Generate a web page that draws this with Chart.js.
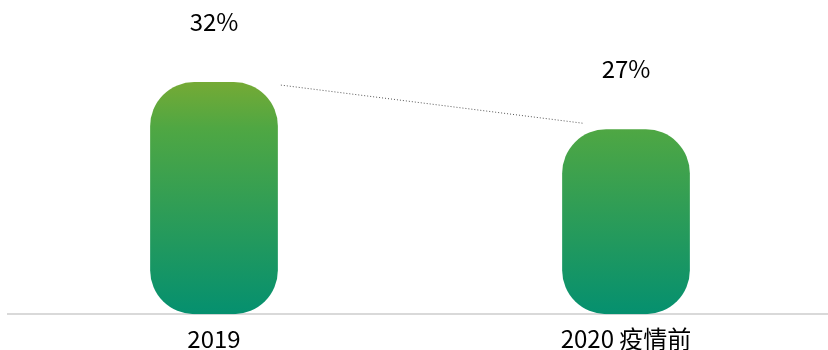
<!DOCTYPE html>
<html>
<head>
<meta charset="utf-8">
<script src="https://cdn.jsdelivr.net/npm/chart.js@4/dist/chart.umd.min.js"></script>
<style>
  html, body { margin: 0; padding: 0; background: #fff; overflow: hidden; }
  #wrap { position: relative; width: 832px; height: 363px; }
</style>
</head>
<body>
<div id="wrap"><canvas id="chart"></canvas></div>
<script>
const categories = ["2019", "2020 疫情前"];
const shares = [32, 27];
const shareLabels = ["32%", "27%"];

const Y_MIN = 7.4;
const Y_MAX = 40.7;
const FONT = "'Noto Sans CJK SC', 'Noto Sans', sans-serif";

// value labels above each bar
const valueLabels = {
    id: "valueLabels",
    afterDatasetsDraw(chart) {
        const ctx = chart.ctx;
        const bars = chart.getDatasetMeta(0).data;
        ctx.save();
        ctx.font = "24px " + FONT;
        ctx.fillStyle = "#000";
        ctx.textAlign = "center";
        ctx.textBaseline = "middle";
        bars.forEach((bar, i) => {
            ctx.fillText(shareLabels[i], bar.x, bar.y - 60);
        });
        ctx.restore();
    }
};

// dotted trend line between the two bars
const trendLine = {
    id: "trendLine",
    afterDatasetsDraw(chart) {
        const ctx = chart.ctx;
        const [a, b] = chart.getDatasetMeta(0).data;
        ctx.save();
        ctx.strokeStyle = "#555";
        ctx.lineWidth = 1;
        ctx.setLineDash([1, 2]);
        ctx.beginPath();
        ctx.moveTo(a.x + a.width / 2 + 3, a.y + 3);
        ctx.lineTo(b.x - b.width / 2 + 21, b.y - 6);
        ctx.stroke();
        ctx.restore();
    }
};

function barGradient(context) {
    const chart = context.chart;
    const area = chart.chartArea;
    if (!area) return "#2f9d55";
    const y = chart.scales.y;
    const top = y.getPixelForValue(Math.max(...shares));
    const g = chart.ctx.createLinearGradient(0, top, 0, area.bottom);
    g.addColorStop(0, "#75aa35");
    g.addColorStop(0.2, "#4fa743");
    g.addColorStop(1, "#05906f");
    return g;
}

new Chart(document.getElementById("chart"), {
    type: "bar",
    data: {
        labels: categories,
        datasets: [{
            data: shares,
            base: Y_MIN,
            backgroundColor: barGradient,
            borderRadius: 44,
            borderSkipped: false,
            barPercentage: 0.62,
            categoryPercentage: 0.5
        }]
    },
    options: {
        responsive: true,
        maintainAspectRatio: false,
        animation: false,
        layout: { padding: { left: 8, right: 0, top: 0, bottom: 0 } },
        plugins: {
            legend: { display: false },
            tooltip: { enabled: false }
        },
        scales: {
            x: {
                grid: { display: false, drawTicks: false },
                border: { display: true, color: "#d9d9d9", width: 2 },
                ticks: {
                    color: "#000",
                    padding: 10,
                    font: { family: FONT, size: 24 }
                }
            },
            y: {
                display: false,
                min: Y_MIN,
                max: Y_MAX
            }
        }
    },
    plugins: [valueLabels, trendLine]
});
</script>
</body>
</html>
